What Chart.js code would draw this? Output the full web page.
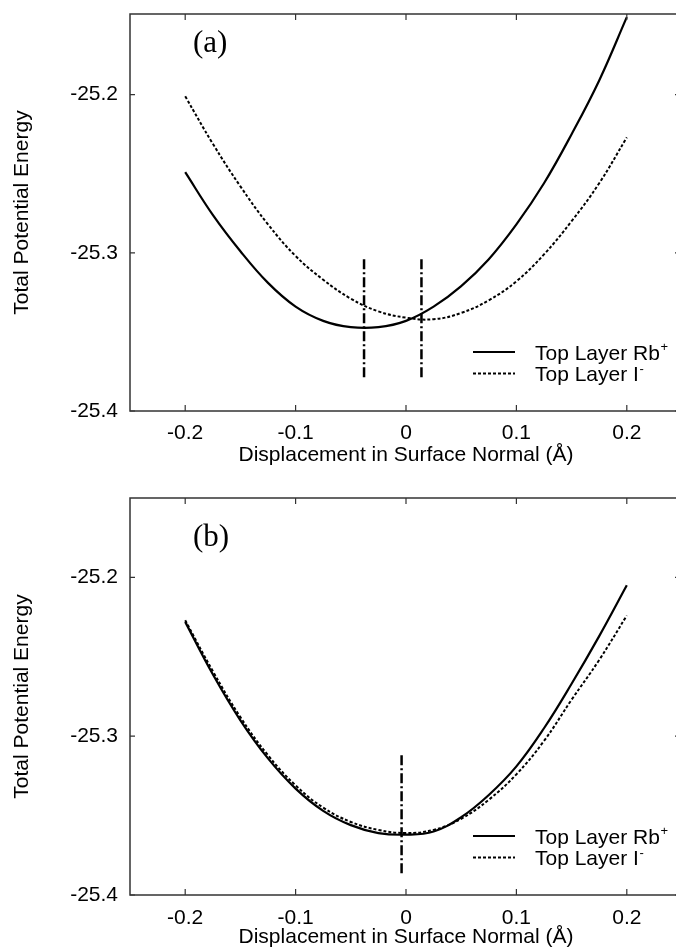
<!DOCTYPE html>
<html>
<head>
<meta charset="utf-8">
<script src="https://cdn.jsdelivr.net/npm/chart.js@4.4.1/dist/chart.umd.min.js"></script>
<style>
  html, body { margin: 0; padding: 0; background: #fff; overflow: hidden; width: 676px; height: 950px; }
  .panel { position: absolute; left: 0; }
  #wrapA { top: 0; }
  #wrapB { top: 478px; }
</style>
</head>
<body>
<div class="panel" id="wrapA"><canvas id="chartA" width="690" height="478" style="width:690px;height:478px"></canvas></div>
<div class="panel" id="wrapB"><canvas id="chartB" width="690" height="472" style="width:690px;height:472px"></canvas></div>
<script>
// ---- data ----
const displacement = [-0.2, -0.175, -0.15, -0.125, -0.1, -0.075, -0.05, -0.025, 0, 0.025, 0.05, 0.075, 0.1, 0.125, 0.15, 0.175, 0.2];
const rbPanelA = [-25.249, -25.276, -25.299, -25.319, -25.334, -25.343, -25.347, -25.347, -25.343, -25.334, -25.321, -25.304, -25.282, -25.256, -25.225, -25.191, -25.151];
const iPanelA  = [-25.201, -25.231, -25.258, -25.282, -25.302, -25.317, -25.329, -25.337, -25.341, -25.342, -25.338, -25.330, -25.318, -25.301, -25.280, -25.256, -25.227];
const rbPanelB = [-25.228, -25.261, -25.290, -25.314, -25.333, -25.347, -25.356, -25.361, -25.362, -25.360, -25.351, -25.337, -25.319, -25.295, -25.267, -25.237, -25.205];
const iPanelB  = [-25.227, -25.259, -25.288, -25.312, -25.331, -25.345, -25.354, -25.359, -25.361, -25.359, -25.352, -25.340, -25.324, -25.303, -25.277, -25.252, -25.224];
const minimaA = [-0.038, 0.014];
const minimaRangeA = [-25.379, -25.304];
const minimaB = [-0.004];
const minimaRangeB = [-25.387, -25.312];
const xTickValues = [-0.2, -0.1, 0, 0.1, 0.2];
const xTickLabels = ['-0.2', '-0.1', '0', '0.1', '0.2'];
const yTickValues = [-25.4, -25.3, -25.2];
const yTickLabels = ['-25.4', '-25.3', '-25.2'];
const seriesNames = ['Top Layer Rb\u207A', 'Top Layer I\u207B'];
const panelLabels = ['(a)', '(b)'];
const xTitle = 'Displacement in Surface Normal (\u00C5)';
const yTitle = 'Total Potential Energy';

const SANS = "'Liberation Sans', Arial, Helvetica, sans-serif";
const SERIF = "'Liberation Serif', 'Times New Roman', serif";
Chart.defaults.color = '#000';
Chart.defaults.font.family = SANS;

const pts = (xs, ys) => xs.map((x, i) => ({ x: x, y: ys[i] }));

const framePlugin = {
  id: 'frameTicks',
  afterDraw(chart, args, opts) {
    const ctx = chart.ctx;
    const a = chart.chartArea;
    const xs = chart.scales.x, ys = chart.scales.y;
    ctx.save();
    ctx.strokeStyle = '#333';
    ctx.lineWidth = 1.5;
    ctx.strokeRect(a.left, a.top, a.right - a.left, a.bottom - a.top);
    ctx.lineWidth = 1.2;
    ctx.beginPath();
    xTickValues.forEach(v => {
      const p = xs.getPixelForValue(v);
      ctx.moveTo(p, a.bottom); ctx.lineTo(p, a.bottom - 6);
      ctx.moveTo(p, a.top); ctx.lineTo(p, a.top + 6);
    });
    yTickValues.forEach(v => {
      const p = ys.getPixelForValue(v);
      ctx.moveTo(a.left, p); ctx.lineTo(a.left + 5, p);
      ctx.moveTo(a.right, p); ctx.lineTo(a.right - 7, p);
    });
    ctx.stroke();

    // panel label
    ctx.fillStyle = '#000';
    ctx.font = '31px ' + SERIF;
    ctx.textAlign = 'left';
    ctx.textBaseline = 'middle';
    ctx.fillText(opts.label, xs.getPixelForValue(opts.labelX), ys.getPixelForValue(opts.labelY));

    // legend
    const series = chart.data.datasets.filter(d => d.label);
    series.forEach((d, i) => {
      const ly = a.bottom - opts.legendBottom + i * 21.5;
      ctx.save();
      ctx.strokeStyle = d.borderColor;
      ctx.lineWidth = d.borderWidth;
      ctx.setLineDash(d.borderDash || []);
      ctx.beginPath();
      ctx.moveTo(opts.legendX, ly);
      ctx.lineTo(opts.legendX + 42, ly);
      ctx.stroke();
      ctx.restore();
      const sup = d.label.slice(-1);
      const base = d.label.slice(0, -1);
      ctx.font = '21px ' + SANS;
      ctx.textBaseline = 'alphabetic';
      const tx = opts.legendX + 62;
      ctx.fillText(base, tx, ly + 7.5);
      const w = ctx.measureText(base).width;
      ctx.font = '13px ' + SANS;
      ctx.fillText(sup === '\u207A' ? '+' : '-', tx + w + 0.5, ly - 1);
    });
    ctx.restore();
  }
};

function makeChart(id, rb, io, minima, range, padTop, xHeight, titlePad, tickPad, yMax, label, labelY) {
  const datasets = [
    { label: seriesNames[0], data: pts(displacement, rb), borderColor: '#000', borderWidth: 2.2, borderDash: [], pointRadius: 0, tension: 0.4, fill: false },
    { label: seriesNames[1], data: pts(displacement, io), borderColor: '#000', borderWidth: 2, borderDash: [3, 2], pointRadius: 0, tension: 0.4, fill: false }
  ];
  minima.forEach(m => {
    datasets.push({ label: '', data: [{ x: m, y: range[1] }, { x: m, y: range[0] }], borderColor: '#000', borderWidth: 2.5, borderDash: [10, 3, 2, 3], pointRadius: 0, fill: false });
  });
  return new Chart(document.getElementById(id), {
    type: 'line',
    data: { datasets },
    plugins: [framePlugin],
    options: {
      responsive: false,
      animation: false,
      devicePixelRatio: 1,
      layout: { padding: { left: 0, top: padTop, right: 8, bottom: 0 } },
      plugins: {
        legend: { display: false },
        tooltip: { enabled: false },
        frameTicks: { label: label, labelX: -0.193, labelY: labelY, legendX: 473, legendBottom: 59 }
      },
      scales: {
        x: {
          type: 'linear', min: -0.25, max: 0.25,
          afterBuildTicks: s => { s.ticks = xTickValues.map(v => ({ value: v })); },
          afterFit: s => { s.height = xHeight; s.paddingLeft = 0; s.paddingRight = 0; },
          ticks: { padding: tickPad, font: { size: 21 }, color: '#000', maxRotation: 0, autoSkip: false,
                   callback: v => xTickLabels[xTickValues.findIndex(t => Math.abs(t - v) < 1e-9)] },
          grid: { display: false, drawTicks: false },
          border: { display: false },
          title: { display: true, text: xTitle, font: { size: 21 }, color: '#000', padding: { top: 0, bottom: titlePad } }
        },
        y: {
          type: 'linear', min: -25.4, max: yMax,
          afterBuildTicks: s => { s.ticks = yTickValues.map(v => ({ value: v })); },
          afterFit: s => { s.width = 130; s.paddingTop = 0; s.paddingBottom = 0; },
          ticks: { padding: 12, font: { size: 21 }, color: '#000', autoSkip: false,
                   callback: v => yTickLabels[yTickValues.findIndex(t => Math.abs(t - v) < 1e-9)] },
          grid: { display: false, drawTicks: false },
          border: { display: false },
          title: { display: true, text: yTitle, font: { size: 21 }, color: '#000', padding: { top: 10, bottom: 0 } }
        }
      }
    }
  });
}

makeChart('chartA', rbPanelA, iPanelA, minimaA, minimaRangeA, 14, 67, 10, 10, -25.149, panelLabels[0], -25.168);
makeChart('chartB', rbPanelB, iPanelB, minimaB, minimaRangeB, 20, 55, 0, 11, -25.150, panelLabels[1], -25.175);
</script>
</body>
</html>
